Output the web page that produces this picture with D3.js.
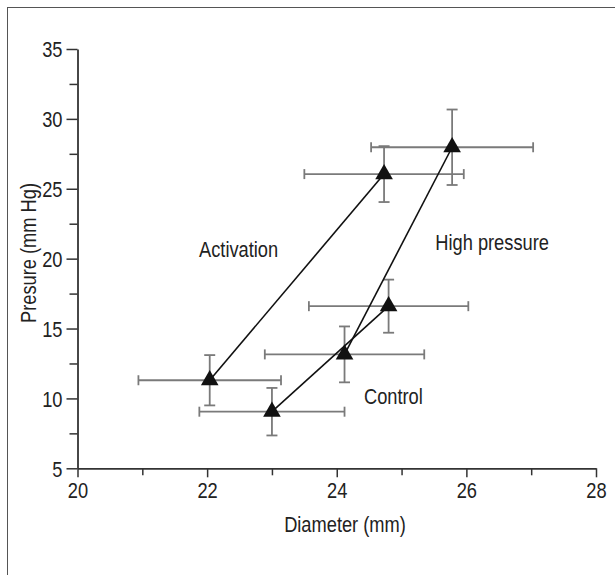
<!DOCTYPE html>
<html>
<head>
<meta charset="utf-8">
<script src="https://cdn.jsdelivr.net/npm/d3@7"></script>
<style>
  body { margin: 0; background: #fff; }
  text { font-family: "Liberation Sans Narrow", "Arial Narrow", "Liberation Sans", Arial, sans-serif; fill: #222; }
</style>
</head>
<body>
<svg id="chart" width="615" height="575"></svg>
<script>
// data
const groups = ["Activation", "Control", "High pressure"];
const diameter = [[22.04, 24.73], [23.0, 24.8], [24.12, 25.78]];
const pressure = [[11.3, 26.05], [9.05, 16.6], [13.15, 27.97]];
const diameterErr = [[1.1, 1.23], [1.12, 1.23], [1.23, 1.25]];
const pressureErr = [[1.8, 2.0], [1.7, 1.9], [2.0, 2.7]];
const labelPos = [[21.875, 20.12], [24.42, 9.6], [25.52, 20.65]];
const xTicks = [20, 22, 24, 26, 28];
const yTicks = [5, 10, 15, 20, 25, 30, 35];

const svg = d3.select("#chart");

// frame (only top/left visible in the original crop)
svg.append("rect")
   .attr("x", 7.5).attr("y", 7.5)
   .attr("width", 700).attr("height", 700)
   .attr("fill", "none").attr("stroke", "#555").attr("stroke-width", 1);

const x = d3.scaleLinear().domain([20, 28]).range([77.5, 596]);
const y = d3.scaleLinear().domain([5, 35]).range([468.3, 49]);

// minor ticks
svg.append("g")
   .attr("transform", "translate(" + x(20) + ",0)")
   .call(d3.axisLeft(y).tickValues(d3.range(7.5, 35, 5)).tickSize(8).tickSizeOuter(0).tickFormat(""))
   .call(g => g.select(".domain").remove());
svg.append("g")
   .attr("transform", "translate(0," + y(5) + ")")
   .call(d3.axisBottom(x).tickValues(d3.range(21, 28, 2)).tickSize(7).tickSizeOuter(0).tickFormat(""))
   .call(g => g.select(".domain").remove());

// major axes
const yAxis = svg.append("g")
   .attr("transform", "translate(" + x(20) + ",0)")
   .call(d3.axisLeft(y).tickValues(yTicks).tickSize(11).tickSizeOuter(0).tickPadding(4));
const xAxis = svg.append("g")
   .attr("transform", "translate(0," + y(5) + ")")
   .call(d3.axisBottom(x).tickValues(xTicks).tickSize(9).tickSizeOuter(0).tickPadding(5));

svg.selectAll(".tick line").attr("stroke", "#333").attr("stroke-width", 1.5);
svg.selectAll(".domain").attr("stroke", "#333").attr("stroke-width", 1.8);
svg.selectAll(".tick text").style("font-size", "22px").attr("fill", "#222");
yAxis.selectAll(".tick text").attr("dy", "0.36em");
xAxis.selectAll(".tick text").attr("dy", "0.72em");

// axis titles
svg.append("text")
   .attr("x", 345).attr("y", 532)
   .attr("text-anchor", "middle")
   .style("font-size", "22px")
   .text("Diameter (mm)");
svg.append("text")
   .attr("transform", "translate(36,253) rotate(-90)")
   .attr("text-anchor", "middle")
   .style("font-size", "22px")
   .text("Presure (mm Hg)");

const pts = [];
groups.forEach((gName, gi) => {
  diameter[gi].forEach((d, i) => {
    pts.push({ g: gi, x: d, y: pressure[gi][i], ex: diameterErr[gi][i], ey: pressureErr[gi][i] });
  });
});

// error bars
const err = svg.append("g").attr("stroke", "#7a7a7a").attr("stroke-width", 1.8).attr("fill", "none");
pts.forEach(p => {
  const cx = x(p.x), cy = y(p.y);
  const x0 = x(p.x - p.ex), x1 = x(p.x + p.ex);
  const y0 = y(p.y - p.ey), y1 = y(p.y + p.ey);
  err.append("line").attr("x1", x0).attr("x2", x1).attr("y1", cy).attr("y2", cy);
  err.append("line").attr("x1", x0).attr("x2", x0).attr("y1", cy - 5).attr("y2", cy + 5);
  err.append("line").attr("x1", x1).attr("x2", x1).attr("y1", cy - 5).attr("y2", cy + 5);
  err.append("line").attr("x1", cx).attr("x2", cx).attr("y1", y0).attr("y2", y1);
  err.append("line").attr("x1", cx - 5.5).attr("x2", cx + 5.5).attr("y1", y0).attr("y2", y0);
  err.append("line").attr("x1", cx - 5.5).attr("x2", cx + 5.5).attr("y1", y1).attr("y2", y1);
});

// connecting lines
const line = d3.line().x(d => x(d[0])).y(d => y(d[1]));
groups.forEach((gName, gi) => {
  svg.append("path")
     .datum(diameter[gi].map((d, i) => [d, pressure[gi][i]]))
     .attr("d", line)
     .attr("fill", "none").attr("stroke", "#111").attr("stroke-width", 1.6);
});

// markers
svg.append("g").selectAll("path")
   .data(pts)
   .enter().append("path")
   .attr("transform", d => "translate(" + x(d.x) + "," + y(d.y) + ")")
   .attr("d", d3.symbol(d3.symbolTriangle).size(135))
   .attr("fill", "#111");

// group labels
svg.append("g").selectAll("text")
   .data(groups)
   .enter().append("text")
   .attr("x", (d, i) => x(labelPos[i][0]))
   .attr("y", (d, i) => y(labelPos[i][1]))
   .style("font-size", "22px")
   .text(d => d);

// the original uses a condensed face; squeeze the regular one to match
svg.selectAll("text").each(function() {
  const w = this.getComputedTextLength();
  if (w > 0) {
    d3.select(this).attr("textLength", w * 0.83).attr("lengthAdjust", "spacingAndGlyphs");
  }
});
</script>
</body>
</html>
